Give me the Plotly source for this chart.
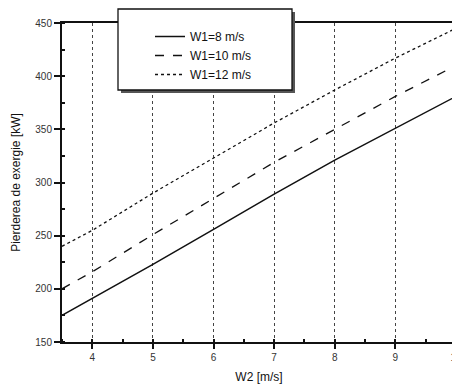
import plotly.graph_objects as go

w2 = [3.5, 4, 5, 6, 7, 8, 9, 10]
loss_w1_8 = [175, 191, 223, 256, 289, 321, 351, 381]
loss_w1_10 = [200, 216, 251, 285, 319, 350, 381, 410]
loss_w1_12 = [240, 255, 290, 323, 356, 387, 417, 445]
series_names = ["W1=8 m/s", "W1=10 m/s", "W1=12 m/s"]
x_ticks = [4, 5, 6, 7, 8, 9, 10]
y_ticks = [150, 200, 250, 300, 350, 400, 450]

FONT = "Liberation Sans, Arial, sans-serif"

fig = go.Figure()
for name, ys, dash, lw in zip(series_names, [loss_w1_8, loss_w1_10, loss_w1_12],
                              ["solid", "dash", "dot"], [1.5, 1.3, 1.3]):
    fig.add_trace(go.Scatter(x=w2, y=ys, mode="lines", name=name,
                             line=dict(color="#111", width=lw, dash=dash)))

# page body has an 8px margin, so the figure is sized to fit the 460x390 window
L, R, T, B = 54, 4, 15, 48
W, H = 452, 382
ph = H - T - B
pw = W - L - R

# legend box shadow and box (pixel offsets from the plot origin)
bx0, bx1, by0, by1 = 56, 230, 252, 333
fig.add_shape(type="rect", xref="paper", yref="paper", xsizemode="pixel", ysizemode="pixel",
              xanchor=0, yanchor=0, x0=bx0 + 3, x1=bx1 + 3, y0=by0 - 3, y1=by1 - 3,
              fillcolor="#555", line=dict(width=0), layer="above")
fig.add_shape(type="rect", xref="paper", yref="paper", xsizemode="pixel", ysizemode="pixel",
              xanchor=0, yanchor=0, x0=bx0, x1=bx1, y0=by0, y1=by1,
              fillcolor="white", line=dict(color="#111", width=1.3), layer="above")

fig.update_layout(
    width=W, height=H,
    margin=dict(l=L, r=R, t=T, b=B, autoexpand=False),
    paper_bgcolor="white", plot_bgcolor="white",
    font=dict(family=FONT, color="#222", size=11),
    showlegend=True,
    legend=dict(x=88 / pw, y=(ph + 1) / ph, xanchor="left", yanchor="top",
                bgcolor="rgba(0,0,0,0)", borderwidth=0,
                font=dict(family=FONT, size=12, color="#111"),
                tracegroupgap=0),
    xaxis=dict(range=[3.5, 10], tickvals=x_ticks, ticktext=[str(v) for v in x_ticks],
               showgrid=True, gridcolor="#444", gridwidth=1, griddash="dot",
               showline=True, linecolor="#111", linewidth=2, mirror=True,
               ticks="outside", ticklen=5, tickwidth=1.5, tickcolor="#111",
               ticklabeloverflow="allow",
               minor=dict(dtick=0.5, tick0=3.5, ticks="inside", ticklen=3, tickcolor="#111", showgrid=False),
               tickfont=dict(size=10, color="#333"), zeroline=False, automargin=False,
               title=dict(text="W2 [m/s]", font=dict(size=12, color="#111"), standoff=11)),
    yaxis=dict(range=[150, 450], tickvals=y_ticks, ticktext=[str(v) for v in y_ticks],
               showgrid=False,
               showline=True, linecolor="#111", linewidth=2, mirror=True,
               ticks="outside", ticklen=6, tickwidth=1.5, tickcolor="#111",
               minor=dict(dtick=25, tick0=150, ticks="inside", ticklen=3, tickcolor="#111", showgrid=False),
               tickfont=dict(size=10, color="#333"), zeroline=False, automargin=False,
               title=dict(text="Pierderea de exergie [kW]", font=dict(size=12, color="#111"), standoff=12)),
)

fig.write_html("out.html")
